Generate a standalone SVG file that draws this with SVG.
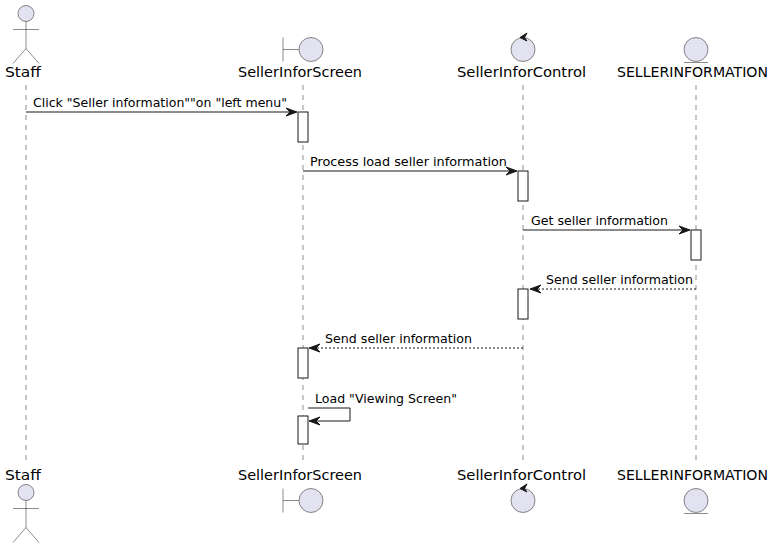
<svg xmlns="http://www.w3.org/2000/svg" width="775" height="548" viewBox="0 0 775 548">
<style>
.life{stroke:#181818;stroke-width:0.5;stroke-dasharray:5,5;fill:none}
.part{fill:#E2E2F0;stroke:#181818;stroke-width:0.5}
.fig{fill:none;stroke:#181818;stroke-width:0.5}
.pl{font-family:"DejaVu Sans",sans-serif;font-size:14.5px;fill:#000}
.ml{font-family:"DejaVu Sans",sans-serif;font-size:12.8px;fill:#000}
.act{fill:#FFFFFF;stroke:#181818;stroke-width:1}
.msg{stroke:#181818;stroke-width:1;fill:none}
.ret{stroke:#181818;stroke-width:1;fill:none;stroke-dasharray:2,2}
.head{fill:#181818;stroke:#181818;stroke-width:1}
</style>
<rect width="775" height="548" fill="#FFFFFF"/>
<g id="lifelines">
<line class="life" x1="26" y1="85" x2="26" y2="465"/>
<line class="life" x1="303" y1="85" x2="303" y2="465"/>
<line class="life" x1="523" y1="85" x2="523" y2="465"/>
<line class="life" x1="696" y1="85" x2="696" y2="465"/>
</g>
<g id="Staff">
<ellipse class="part" cx="26" cy="13.5" rx="8" ry="8"/>
<path class="fig" d="M26,21.5 L26,48.5 M13,29.5 L39,29.5 M26,48.5 L13,63.5 M26,48.5 L39,63.5"/>
<text class="pl" x="5" y="77" textLength="36" lengthAdjust="spacingAndGlyphs">Staff</text>
<text class="pl" x="5" y="480" textLength="36" lengthAdjust="spacingAndGlyphs">Staff</text>
<ellipse class="part" cx="26" cy="492.5" rx="8" ry="8"/>
<path class="fig" d="M26,500.5 L26,527.5 M13,508.5 L39,508.5 M26,527.5 L13,542.5 M26,527.5 L39,542.5"/>
</g>
<g id="SellerInforScreen">
<path class="fig" d="M283,37.5 L283,61.5 M283,49.5 L299,49.5"/>
<ellipse class="part" cx="311" cy="49.5" rx="12" ry="12"/>
<text class="pl" x="238" y="77" textLength="124" lengthAdjust="spacingAndGlyphs">SellerInforScreen</text>
<text class="pl" x="238" y="480" textLength="124" lengthAdjust="spacingAndGlyphs">SellerInforScreen</text>
<path class="fig" d="M283,488.5 L283,512.5 M283,500.5 L299,500.5"/>
<ellipse class="part" cx="311" cy="500.5" rx="12" ry="12"/>
</g>
<g id="SellerInforControl">
<ellipse class="part" cx="523" cy="49.5" rx="12" ry="12"/>
<polygon class="head" points="527,33 520,37.5 527,41 524.5,37.5"/>
<text class="pl" x="457" y="77" textLength="129" lengthAdjust="spacingAndGlyphs">SellerInforControl</text>
<text class="pl" x="457" y="480" textLength="129" lengthAdjust="spacingAndGlyphs">SellerInforControl</text>
<ellipse class="part" cx="523" cy="500.5" rx="12" ry="12"/>
<polygon class="head" points="527,484 520,488.5 527,492 524.5,488.5"/>
</g>
<g id="SELLERINFORMATION">
<ellipse class="part" cx="696" cy="49.5" rx="12" ry="12"/>
<line class="fig" x1="684" y1="62.5" x2="708" y2="62.5"/>
<text class="pl" x="617" y="77" textLength="151" lengthAdjust="spacingAndGlyphs">SELLERINFORMATION</text>
<text class="pl" x="617" y="480" textLength="151" lengthAdjust="spacingAndGlyphs">SELLERINFORMATION</text>
<ellipse class="part" cx="696" cy="500.5" rx="12" ry="12"/>
<line class="fig" x1="684" y1="513.5" x2="708" y2="513.5"/>
</g>
<g id="activations">
<rect class="act" x="298" y="112" width="10" height="30"/>
<rect class="act" x="518" y="171" width="10" height="30"/>
<rect class="act" x="691" y="230" width="10" height="30"/>
<rect class="act" x="518" y="289" width="10" height="30"/>
<rect class="act" x="298" y="348" width="10" height="30"/>
<rect class="act" x="298" y="416" width="10" height="28"/>
</g>
<g id="connectors">
<line class="msg" x1="26" y1="112" x2="296" y2="112"/>
<polygon class="head" points="286,108 297,112 286,116 290,112"/>
<text class="ml" x="33" y="107" textLength="254" lengthAdjust="spacingAndGlyphs">Click "Seller information""on "left menu"</text>

<line class="msg" x1="303" y1="171" x2="516" y2="171"/>
<polygon class="head" points="506,167 517,171 506,175 510,171"/>
<text class="ml" x="310" y="166" textLength="197" lengthAdjust="spacingAndGlyphs">Process load seller information</text>

<line class="msg" x1="523" y1="230" x2="689" y2="230"/>
<polygon class="head" points="679,226 690,230 679,234 683,230"/>
<text class="ml" x="531" y="225" textLength="137" lengthAdjust="spacingAndGlyphs">Get seller information</text>

<line class="ret" x1="696" y1="289" x2="531" y2="289"/>
<polygon class="head" points="541,285 530,289 541,293 537,289"/>
<text class="ml" x="546" y="284" textLength="147" lengthAdjust="spacingAndGlyphs">Send seller information</text>

<line class="ret" x1="523" y1="348" x2="310" y2="348"/>
<polygon class="head" points="320,344 309,348 320,352 316,348"/>
<text class="ml" x="325" y="343" textLength="147" lengthAdjust="spacingAndGlyphs">Send seller information</text>

<polyline class="msg" points="308,408 350,408 350,421 310,421"/>
<polygon class="head" points="320,417 309,421 320,425 316,421"/>
<text class="ml" x="315" y="403" textLength="142" lengthAdjust="spacingAndGlyphs">Load "Viewing Screen"</text>
</g>
</svg>
